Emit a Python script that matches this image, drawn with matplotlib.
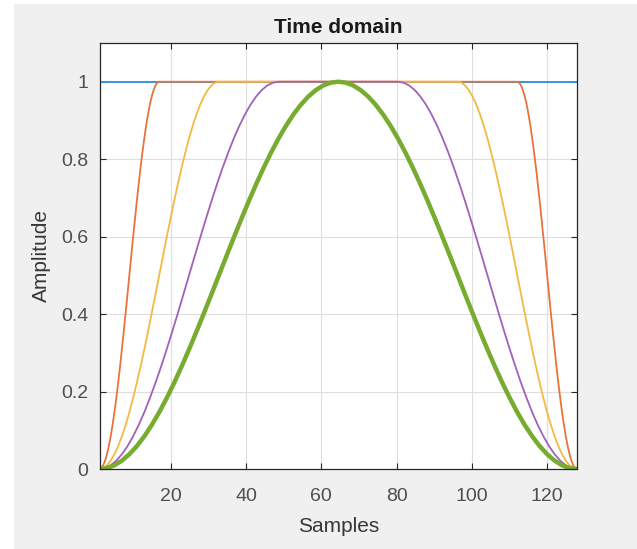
import matplotlib
matplotlib.use("Agg")
import matplotlib.pyplot as plt
from matplotlib.patches import Rectangle

N_SAMPLES = 128

# Rising-edge points (x in samples, amplitude)
red_x = [1, 1.50, 1.99, 2.49, 2.98, 3.48, 3.98, 4.47, 4.97, 5.46, 5.96, 6.46, 6.95, 7.45, 7.95, 8.44,
         8.94, 9.43, 9.93, 10.43, 10.92, 11.42, 11.91, 12.41, 12.91, 13.40, 13.90, 14.39, 14.89, 15.39,
         15.88, 16.38, 16.88]
red_y = [0, 0.0024, 0.0096, 0.0215, 0.0381, 0.0590, 0.0843, 0.1135, 0.1464, 0.1828, 0.2222, 0.2643,
         0.3087, 0.3549, 0.4025, 0.4510, 0.5, 0.5490, 0.5975, 0.6451, 0.6913, 0.7357, 0.7778, 0.8172,
         0.8536, 0.8865, 0.9157, 0.9410, 0.9619, 0.9785, 0.9904, 0.9976, 1]

yellow_x = [1, 1.99, 2.98, 3.98, 4.97, 5.96, 6.95, 7.95, 8.94, 9.93, 10.92, 11.91, 12.91, 13.90, 14.89,
            15.88, 16.88, 17.87, 18.86, 19.85, 20.84, 21.84, 22.83, 23.82, 24.81, 25.80, 26.80, 27.79,
            28.78, 29.77, 30.77, 31.76, 32.75]
yellow_y = [0, 0.0024, 0.0096, 0.0215, 0.0381, 0.0590, 0.0843, 0.1135, 0.1464, 0.1828, 0.2222, 0.2643,
            0.3087, 0.3549, 0.4025, 0.4510, 0.5, 0.5490, 0.5975, 0.6451, 0.6913, 0.7357, 0.7778, 0.8172,
            0.8536, 0.8865, 0.9157, 0.9410, 0.9619, 0.9785, 0.9904, 0.9976, 1]

purple_x = [1, 2.49, 3.98, 5.46, 6.95, 8.44, 9.93, 11.42, 12.91, 14.39, 15.88, 17.37, 18.86, 20.35,
            21.84, 23.32, 24.81, 26.30, 27.79, 29.28, 30.77, 32.25, 33.74, 35.23, 36.72, 38.21, 39.70,
            41.18, 42.67, 44.16, 45.65, 47.14, 48.63]
purple_y = [0, 0.0024, 0.0096, 0.0215, 0.0381, 0.0590, 0.0843, 0.1135, 0.1464, 0.1828, 0.2222, 0.2643,
            0.3087, 0.3549, 0.4025, 0.4510, 0.5, 0.5490, 0.5975, 0.6451, 0.6913, 0.7357, 0.7778, 0.8172,
            0.8536, 0.8865, 0.9157, 0.9410, 0.9619, 0.9785, 0.9904, 0.9976, 1]

green_x = [1, 2.98, 4.97, 6.95, 8.94, 10.92, 12.91, 14.89, 16.88, 18.86, 20.84, 22.83, 24.81, 26.80,
           28.78, 30.77, 32.75, 34.73, 36.72, 38.70, 40.69, 42.67, 44.66, 46.64, 48.63, 50.61, 52.59,
           54.58, 56.56, 58.55, 60.53, 62.52, 64.50]
green_y = [0, 0.0024, 0.0096, 0.0215, 0.0381, 0.0590, 0.0843, 0.1135, 0.1464, 0.1828, 0.2222, 0.2643,
           0.3087, 0.3549, 0.4025, 0.4510, 0.5, 0.5490, 0.5975, 0.6451, 0.6913, 0.7357, 0.7778, 0.8172,
           0.8536, 0.8865, 0.9157, 0.9410, 0.9619, 0.9785, 0.9904, 0.9976, 1]

blue_x = [1, 128]
blue_y = [1, 1]

x_ticks = [20, 40, 60, 80, 100, 120]
y_ticks = [0, 0.2, 0.4, 0.6, 0.8, 1]
y_tick_labels = ["0", "0.2", "0.4", "0.6", "0.8", "1"]


def symmetric(xs, ys):
    # the window is symmetric about its centre; falling edge mirrors the rising edge
    fx = [N_SAMPLES + 1 - v for v in reversed(xs)]
    fy = list(reversed(ys))
    return list(xs) + fx, list(ys) + fy


plt.rcParams['font.family'] = ['Liberation Sans', 'DejaVu Sans']

fig = plt.figure(figsize=(6.37, 5.49), dpi=100)
fig.patch.set_facecolor('white')
fig.patches.append(Rectangle((14 / 637, 0), 1, 545 / 549, transform=fig.transFigure,
                             facecolor='#f0f0f0', edgecolor='none', zorder=-10))

ax = fig.add_axes([99.5 / 637, 80 / 549, 477.5 / 637, 426 / 549])
ax.set_facecolor('white')

series = [
    (blue_x, blue_y, '#3597D8', 1.4, False),
    (red_x, red_y, '#E8733C', 1.3, True),
    (yellow_x, yellow_y, '#F2BA42', 1.3, True),
    (purple_x, purple_y, '#A062B8', 1.3, True),
    (green_x, green_y, '#77AC30', 3.2, True),
]
for xs, ys, col, lw, mirror in series:
    if mirror:
        xs, ys = symmetric(xs, ys)
    ax.plot(xs, ys, color=col, lw=lw, solid_capstyle='round', solid_joinstyle='round')

ax.set_xlim(1, 128)
ax.set_ylim(0, 1.1)
ax.set_xticks(x_ticks)
ax.set_yticks(y_ticks)
ax.set_yticklabels(y_tick_labels)
ax.grid(True, color='#dedede', lw=0.8)
ax.set_axisbelow(True)
ax.tick_params(direction='in', length=4, width=0.8, top=True, right=True,
               labelsize=14, colors='#262626', labelcolor='#4f4f4f')
ax.tick_params(axis='x', pad=13.5)
ax.tick_params(axis='y', pad=8)
for s in ax.spines.values():
    s.set_color('#262626')
    s.set_linewidth(0.9)

ax.set_title('Time domain', fontsize=15, fontweight='bold', color='#1a1a1a', pad=7)
ax.set_xlabel('Samples', fontsize=15, color='#383838', labelpad=9)
ax.set_ylabel('Amplitude', fontsize=15, color='#383838', labelpad=7)

fig.savefig('out.png', dpi=100, facecolor=fig.get_facecolor())
